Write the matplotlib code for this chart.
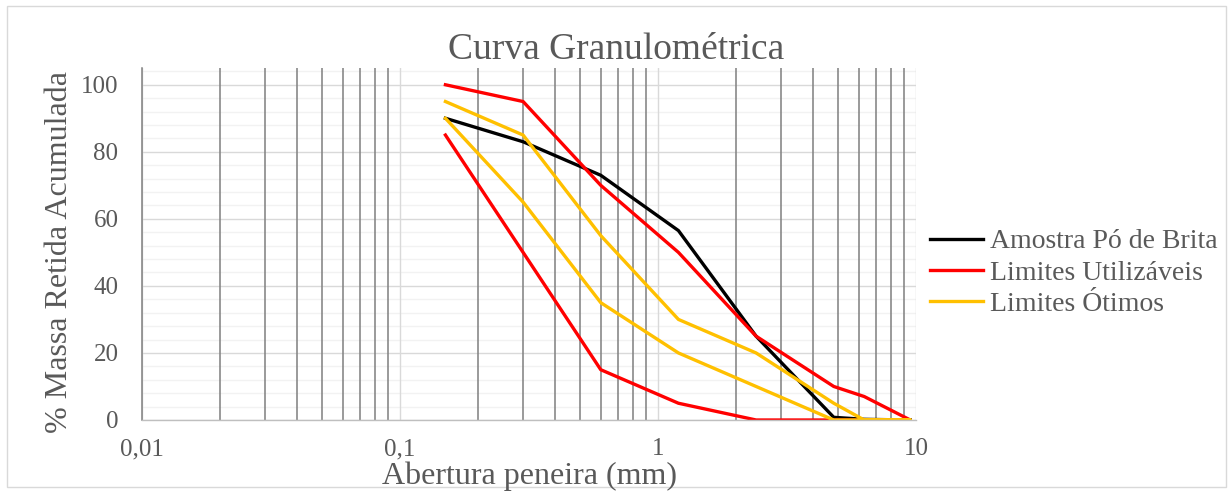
import matplotlib
matplotlib.use("Agg")
import matplotlib.pyplot as plt
from matplotlib.ticker import FixedLocator, MultipleLocator, FuncFormatter, LogLocator
from matplotlib.patches import Rectangle

# abertura das peneiras (mm)
peneiras = [0.15, 0.3, 0.6, 1.2, 2.4, 4.8, 6.3, 9.5]
amostra = [90, 83, 73, 56.5, 25, 0.8, 0.2, 0]
util_sup = [100, 95, 70, 50, 25, 10, 7, 0]
util_inf = [85, 50, 15, 5, 0, 0, 0, 0]
otimo_sup = [95, 85, 55, 30, 20, 5, 0, 0]
otimo_inf = [90, 65, 35, 20, 10, 0, 0, 0]
x_ticks = [0.01, 0.1, 1, 10]

plt.rcParams['font.family'] = ['Liberation Serif', 'DejaVu Serif']
txt = '#595959'

W, H = 1231, 491
fig = plt.figure(figsize=(W / 100, H / 100), dpi=100)
ax = fig.add_axes([142 / W, 1 - 420 / H, (916 - 142) / W, (420 - 68) / H])

# moldura do grafico
fig.patches.append(Rectangle((7 / W, 4 / H), (1226 - 7) / W, (485 - 4) / H,
                             transform=fig.transFigure, fill=False,
                             edgecolor='#D9D9D9', linewidth=1.0))

# limites: sobe pela curva superior e volta pela inferior (uma serie so)
x_lim = peneiras + peneiras[::-1]
ax.plot(peneiras, amostra, color='black', lw=2.4)
ax.plot(x_lim, util_sup + util_inf[::-1], color='#FF0000', lw=2.4)
ax.plot(x_lim, otimo_sup + otimo_inf[::-1], color='#FFC000', lw=2.4)

ax.set_xscale('log')
ax.set_xlim(0.01, 10)
ax.set_ylim(0, 105)
ax.xaxis.set_major_locator(FixedLocator(x_ticks))
ax.xaxis.set_minor_locator(LogLocator(base=10, subs=range(2, 10)))
ax.xaxis.set_major_formatter(FuncFormatter(lambda v, p: ('%g' % v).replace('.', ',')))
ax.yaxis.set_major_locator(MultipleLocator(20))
ax.yaxis.set_minor_locator(MultipleLocator(4))
ax.set_yticks([0, 20, 40, 60, 80, 100])

ax.grid(True, which='major', axis='both', color='#D9D9D9', lw=1.0)
ax.grid(True, which='minor', axis='y', color='#F2F2F2', lw=1.0)
ax.grid(True, which='minor', axis='x', color='#7F7F7F', lw=1.1)
ax.set_axisbelow(True)
# linhas verticais por cima das horizontais
ax.xaxis.set_zorder(0.7)

for s in ['top', 'right']:
    ax.spines[s].set_visible(False)
ax.spines['left'].set_color('#7F7F7F')
ax.spines['left'].set_linewidth(1.1)
ax.spines['bottom'].set_color('#BFBFBF')
ax.spines['bottom'].set_linewidth(1.0)

ax.tick_params(which='both', length=0, labelsize=18, colors=txt)
ax.tick_params(axis='y', pad=17)
ax.tick_params(axis='x', pad=13)

fig.text(616 / W, 1 - 50 / H, 'Curva Granulométrica', ha='center', va='center',
         fontsize=27, color=txt)
fig.text(529 / W, 1 - 484 / H, 'Abertura peneira (mm)', ha='center', va='baseline',
         fontsize=23, color=txt)
fig.text(60 / W, 1 - 252 / H, '% Massa Retida Acumulada', ha='center', va='center',
         rotation=90, fontsize=23, color=txt)

leg = ax.legend(['Amostra Pó de Brita', 'Limites Utilizáveis', 'Limites Ótimos'],
                loc='center left', bbox_to_anchor=(930 / W, 1 - 273 / H),
                bbox_transform=fig.transFigure, frameon=False, fontsize=20,
                handlelength=1.9, handletextpad=0.25, labelspacing=0.21,
                borderpad=0, borderaxespad=0)
for t in leg.get_texts():
    t.set_color(txt)

fig.savefig('out.png', dpi=100)
